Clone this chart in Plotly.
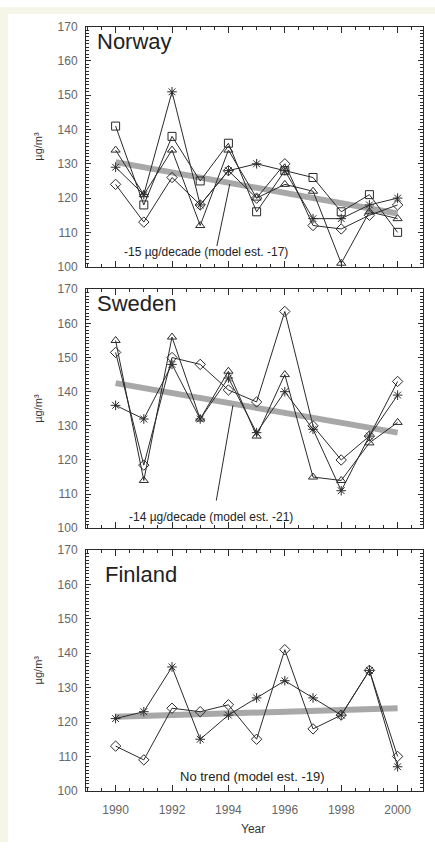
import plotly.graph_objects as go

years = list(range(1990, 2001))
trend_years = [1990, 2000]

norway_square = [141, 118, 138, 125, 136, 116, 128, 126, 116, 121, 110]
norway_triangle = [134, 121, 134, 112, 134, 120, 124, 122, 101, 116, 114]
norway_diamond = [124, 113, 126, 118, 128, 120, 130, 112, 111, 115, 118]
norway_asterisk = [129, 121, 151, 118, 128, 130, 128, 114, 114, 118, 120]
norway_trend = [130.5, 115.5]

sweden_triangle = [155, 114, 156, 132, 146, 127, 145, 115, 114, 125, 131]
sweden_diamond = [151.5, 118.5, 150, 148, 140.5, 137, 163.5, 130, 120, 127, 143]
sweden_asterisk = [136, 132, 148, 132, 144, 128, 140, 129, 111, 127, 139]
sweden_trend = [142.5, 128]

finland_diamond = [113, 109, 124, 123, 125, 115, 141, 118, 122, 135, 110]
finland_asterisk = [121, 123, 136, 115, 122, 127, 132, 127, 122, 135, 107]
finland_trend = [121.5, 124]

y_ticks = [100, 110, 120, 130, 140, 150, 160, 170]
x_ticks = [1990, 1992, 1994, 1996, 1998, 2000]

W, H = 435, 849
FONT = "Liberation Sans, Arial, sans-serif"
LINE = "#2a2a2a"
TREND = "#a8a8a8"
CREAM = "#f6f6e8"

fig = go.Figure()

panels = [
    ("Norway", [(norway_square, "square-open"), (norway_triangle, "triangle-up-open"),
                (norway_diamond, "diamond-open"), (norway_asterisk, "asterisk-open")], norway_trend),
    ("Sweden", [(sweden_triangle, "triangle-up-open"), (sweden_diamond, "diamond-open"),
                (sweden_asterisk, "asterisk-open")], sweden_trend),
    ("Finland", [(finland_diamond, "diamond-open"), (finland_asterisk, "asterisk-open")], finland_trend),
]

panel_px = [(20, 264), (287, 530), (552, 797)]
x_px = (86, 423)

for i, (name, series, trend) in enumerate(panels):
    ax = "" if i == 0 else str(i + 1)
    xa, ya = "x" + ax, "y" + ax
    fig.add_trace(go.Scatter(x=trend_years, y=trend, mode="lines",
                             line=dict(color=TREND, width=6), xaxis=xa, yaxis=ya,
                             showlegend=False, hoverinfo="skip"))
    for vals, sym in series:
        fig.add_trace(go.Scatter(x=years, y=vals, mode="lines+markers",
                                 line=dict(color=LINE, width=1),
                                 marker=dict(symbol=sym, size=8, color=LINE,
                                             line=dict(color=LINE, width=1)),
                                 xaxis=xa, yaxis=ya, showlegend=False))

layout = dict(
    width=W, height=H,
    margin=dict(l=0, r=0, t=0, b=0),
    paper_bgcolor="white",
    plot_bgcolor="white",
    font=dict(family=FONT, color="#333"),
    showlegend=False,
)

for i, (top, bot) in enumerate(panel_px):
    ax = "" if i == 0 else str(i + 1)
    ydom = [1 - bot / H, 1 - top / H]
    xdom = [x_px[0] / W, x_px[1] / W]
    layout["xaxis" + ax] = dict(
        domain=xdom, anchor="y" + ax, range=[1988.95, 2000.9],
        tickvals=x_ticks, ticks="inside", ticklen=6, tickcolor=LINE,
        showline=True, linecolor=LINE, linewidth=1, mirror="ticks",
        showgrid=False, zeroline=False, showticklabels=(i == 2),
        ticklabelstandoff=8,
        tickfont=dict(size=12, color="#666"),
        minor=dict(dtick=0.5, tick0=1990, ticks="inside", ticklen=3, tickcolor=LINE, showgrid=False),
    )
    layout["yaxis" + ax] = dict(
        domain=ydom, anchor="x" + ax, range=[100, 170],
        tickvals=y_ticks, ticks="inside", ticklen=5, tickcolor=LINE,
        showline=True, linecolor=LINE, linewidth=1, mirror="ticks",
        showgrid=False, zeroline=False,
        ticklabelstandoff=5,
        tickfont=dict(size=12, color="#666"),
        minor=dict(dtick=1, tick0=100, ticks="inside", ticklen=3, tickcolor=LINE, showgrid=False),
    )

fig.update_layout(**layout)

# cream border strips (left and top) as in the source image
fig.add_shape(type="rect", xref="paper", yref="paper", x0=0, x1=8 / W, y0=0, y1=1,
              fillcolor=CREAM, line=dict(width=0), layer="below")
fig.add_shape(type="rect", xref="paper", yref="paper", x0=0, x1=1, y0=1 - 7 / H, y1=1,
              fillcolor=CREAM, line=dict(width=0), layer="below")

titles = [("Norway", 95, 35), ("Sweden", 95, 301), ("Finland", 103, 577)]
for name, px, py in titles:
    fig.add_annotation(text=name, xref="paper", yref="paper", x=px / W, y=1 - py / H,
                       xanchor="left", yanchor="middle", showarrow=False,
                       font=dict(size=22, color="#222", family=FONT))

for top, bot in panel_px:
    fig.add_annotation(text="µg/m³", xref="paper", yref="paper", x=38 / W, y=1 - (top + bot) / 2 / H,
                       textangle=-90, showarrow=False, xanchor="center", yanchor="middle",
                       font=dict(size=11, color="#333", family=FONT))

fig.add_annotation(text="Year", xref="paper", yref="paper", x=253 / W, y=1 - 836 / H,
                   showarrow=False, yanchor="middle", font=dict(size=12, color="#333", family=FONT))

notes = [("-15 µg/decade (model est. -17)", "x", "y", 1993.2, 104.3, 12),
         ("-14 µg/decade (model est. -21)", "x2", "y2", 1993.4, 103.4, 12),
         ("No trend (model est. -19)", "x3", "y3", 1994.87, 104.1, 13)]
for txt, xr, yr, x, y, fs in notes:
    fig.add_annotation(text=txt, xref=xr, yref=yr, x=x, y=y, showarrow=False,
                       font=dict(size=fs, color="#222", family=FONT))

fig.add_shape(type="line", xref="x", yref="y", x0=1993.59, y0=106.0, x1=1994.05, y1=124.1,
              line=dict(color=LINE, width=1))
fig.add_shape(type="line", xref="x2", yref="y2", x0=1993.57, y0=108.1, x1=1994.16, y1=136.0,
              line=dict(color=LINE, width=1))

fig.write_html("out.html", config={"displayModeBar": False},
               post_script="document.body.style.margin='0';document.body.style.background='#ffffff';")
